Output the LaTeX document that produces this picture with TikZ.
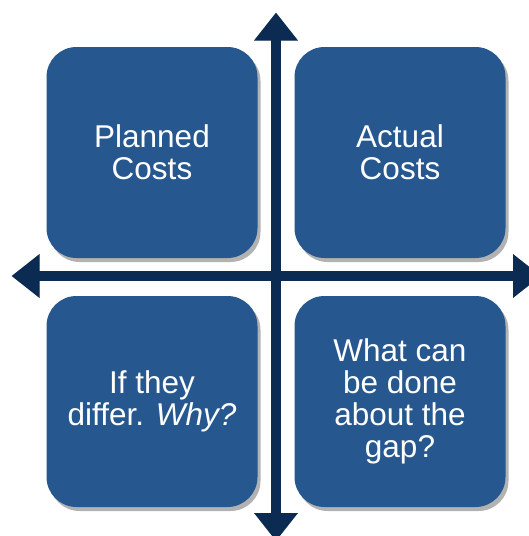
\documentclass[tikz,border=0pt]{standalone}
\usepackage{fontspec}
\setmainfont{Liberation Sans}
\usetikzlibrary{arrows.meta,shadows}
\definecolor{quadblue}{RGB}{38,88,143}
\definecolor{axisnavy}{RGB}{12,43,82}

\begin{document}
\begin{tikzpicture}[x=1pt,y=-1pt,
    quad/.style={fill=quadblue, rounded corners=30pt, minimum width=211pt,
      minimum height=211pt, inner sep=0pt, align=center, text=white,
      font=\fontsize{31.5}{32}\selectfont,
      drop shadow={shadow xshift=3pt, shadow yshift=-4pt, opacity=0.3, fill=black}},
    axis/.style={line width=10.5pt, draw=axisnavy,
      {Triangle[length=28pt,width=42pt]}-{Triangle[length=28pt,width=42pt]}},
    axisshadow/.style={axis, draw=black, opacity=0.15, shift={(2,3)}}]
    % Define coordinates
    \def\axispos{276}
    \useasboundingbox (0,0) rectangle (529,536);
    \coordinate (top) at (\axispos,12.5);
    \coordinate (bottom) at (\axispos,541);
    \coordinate (left) at (11.5,\axispos);
    \coordinate (right) at (541,\axispos);

    % Quadrants
    \node[quad] (planned) at (152,152.5) {Planned\\Costs};
    \node[quad] (actual) at (400,152.5) {Actual\\Costs};
    \node[quad] (differ) at (152,401.5) {If they\\differ. \textit{Why?}};
    \node[quad] (gap) at (400,401.5) {What can\\be done\\about the\\gap?};

    % Axes
    \draw[axisshadow] (left) -- (right);
    \draw[axisshadow] (top) -- (bottom);
    \draw[axis] (left) -- (right);
    \draw[axis] (top) -- (bottom);
  \end{tikzpicture}
\end{document}
